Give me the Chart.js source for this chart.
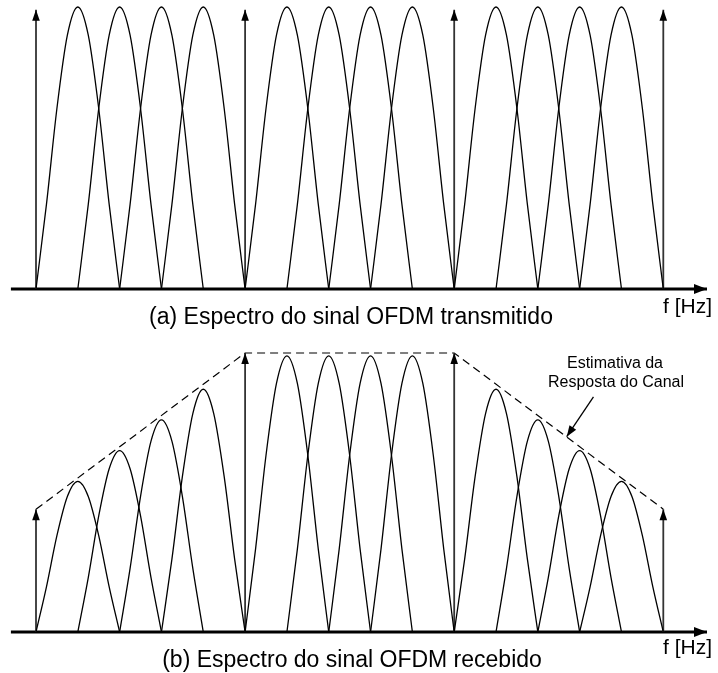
<!DOCTYPE html>
<html>
<head>
<meta charset="utf-8">
<script src="https://cdn.jsdelivr.net/npm/chart.js@4.4.1/dist/chart.umd.min.js"></script>
<style>
  html, body { margin: 0; padding: 0; background: #fff; }
  #wrap { position: relative; width: 718px; height: 673px; }
  canvas { position: absolute; left: 0; display: block; }
</style>
</head>
<body>
<div id="wrap">
  <canvas id="txChart" width="718" height="336" style="top:0"></canvas>
  <canvas id="rxChart" width="718" height="337" style="top:336px"></canvas>
</div>
<script>
// subcarrier positions (in units of carrier spacing)
const pilotPos = [0, 5, 10, 15];
const carrierPos = [1, 2, 3, 4, 6, 7, 8, 9, 11, 12, 13, 14];

// (a) transmitted: all flat
const txPilotAmp = [0.99, 0.99, 0.99, 0.99];
const txCarrierAmp = [1, 1, 1, 1, 1, 1, 1, 1, 1, 1, 1, 1];

// (b) received: shaped by the channel
const rxPilotAmp = [0.44, 1, 1, 0.44];
const rxCarrierAmp = [0.54, 0.65, 0.76, 0.87, 0.99, 0.99, 0.99, 0.99, 0.87, 0.76, 0.65, 0.54];

// channel estimate (dashed), through the pilot tips
const channelX = [0, 5, 10, 15];
const channelY = [0.44, 1, 1, 0.44];

// shape of one main lobe, read at quarter spacings
const lobeOffset = [-1, -0.75, -0.5, -0.25, 0, 0.25, 0.5, 0.75, 1];
const lobeShape = [0, 0.30, 0.64, 0.90, 1, 0.90, 0.64, 0.30, 0];

// frequency axis extent
const axisFrom = -0.6;
const axisTo = 16.045;

// annotation arrow (from label to dashed line)
const noteArrowX = [13.33, 12.69];
const noteArrowY = [0.843, 0.70];

const FONT = "'Liberation Sans', Arial, sans-serif";

// arrow heads at the last point of datasets marked with "arrow"
const arrowHeads = {
  id: "arrowHeads",
  afterDatasetsDraw(chart) {
    const ctx = chart.ctx;
    chart.data.datasets.forEach((ds, i) => {
      if (!ds.arrow) return;
      const pts = chart.getDatasetMeta(i).data;
      const a = pts[pts.length - 2];
      const b = pts[pts.length - 1];
      const ang = Math.atan2(b.y - a.y, b.x - a.x);
      const [len, half] = ds.arrow;
      ctx.save();
      ctx.translate(b.x, b.y);
      ctx.rotate(ang);
      ctx.beginPath();
      ctx.moveTo(0, 0);
      ctx.lineTo(-len, -half);
      ctx.lineTo(-len, half);
      ctx.closePath();
      ctx.fillStyle = "#000";
      ctx.fill();
      ctx.restore();
    });
  },
};

function textPlugin(items) {
  return {
    id: "texts",
    afterDraw(chart) {
      const ctx = chart.ctx;
      ctx.save();
      ctx.fillStyle = "#000";
      ctx.textBaseline = "alphabetic";
      items.forEach((t) => {
        ctx.font = t.size + "px " + FONT;
        ctx.textAlign = t.align;
        ctx.fillText(t.text, t.x, t.y);
      });
      ctx.restore();
    },
  };
}

function lobe(center, amp) {
  return {
    data: lobeOffset.map((o, k) => ({ x: center + o, y: amp * lobeShape[k] })),
    borderColor: "#000",
    borderWidth: 1.3,
    cubicInterpolationMode: "monotone",
  };
}

function pilot(pos, amp) {
  return {
    data: [{ x: pos, y: 0 }, { x: pos, y: amp }],
    borderColor: "#333",
    borderWidth: 1.8,
    arrow: [11, 3.8],
  };
}

function axisLine() {
  return {
    data: [{ x: axisFrom, y: 0 }, { x: axisTo, y: 0 }],
    borderColor: "#000",
    borderWidth: 3,
    arrow: [13, 5],
  };
}

function makeChart(id, datasets, yMin, yMax, texts) {
  return new Chart(document.getElementById(id), {
    type: "line",
    data: { datasets },
    options: {
      responsive: false,
      animation: false,
      devicePixelRatio: 1,
      layout: { padding: 0 },
      elements: { point: { radius: 0 }, line: { tension: 0 } },
      plugins: { legend: { display: false }, tooltip: { enabled: false } },
      scales: {
        x: { type: "linear", min: -0.8608, max: 16.308, display: false },
        y: { type: "linear", min: yMin, max: yMax, display: false },
      },
    },
    plugins: [arrowHeads, textPlugin(texts)],
  });
}

window.onload = () => {
  // (a) transmitted spectrum
  const txSets = [];
  carrierPos.forEach((c, i) => txSets.push(lobe(c, txCarrierAmp[i])));
  pilotPos.forEach((p, i) => txSets.push(pilot(p, txPilotAmp[i])));
  txSets.push(axisLine());

  makeChart("txChart", txSets, -0.16667, 1.02482, [
    { text: "(a) Espectro do sinal OFDM transmitido", x: 351, y: 324, size: 23, align: "center" },
    { text: "f [Hz]", x: 663, y: 313, size: 21, align: "left" },
  ]);

  // (b) received spectrum
  const rxSets = [];
  carrierPos.forEach((c, i) => rxSets.push(lobe(c, rxCarrierAmp[i])));
  pilotPos.forEach((p, i) => rxSets.push(pilot(p, rxPilotAmp[i])));
  rxSets.push({
    data: channelX.map((x, i) => ({ x, y: channelY[i] })),
    borderColor: "#000",
    borderWidth: 1.2,
    borderDash: [8, 5],
  });
  rxSets.push({
    data: noteArrowX.map((x, i) => ({ x, y: noteArrowY[i] })),
    borderColor: "#000",
    borderWidth: 1.3,
    arrow: [11, 4],
  });
  rxSets.push(axisLine());

  makeChart("rxChart", rxSets, -0.14695, 1.0609, [
    { text: "(b) Espectro do sinal OFDM recebido", x: 352, y: 331, size: 23, align: "center" },
    { text: "f [Hz]", x: 663, y: 318, size: 21, align: "left" },
    { text: "Estimativa da", x: 615, y: 32, size: 16, align: "center" },
    { text: "Resposta do Canal", x: 616, y: 51, size: 16, align: "center" },
  ]);
};
</script>
</body>
</html>
